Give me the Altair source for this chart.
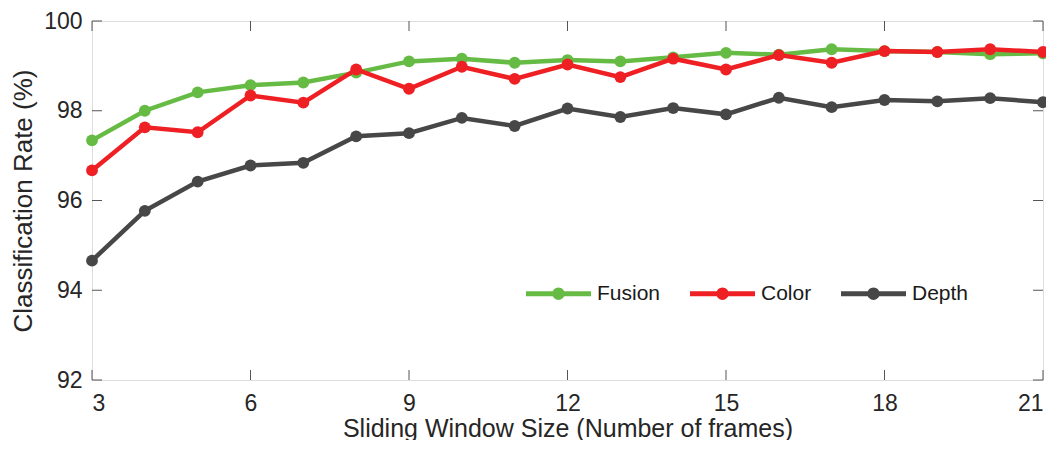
import altair as alt
import pandas as pd

# ---- data ----
window = [3, 4, 5, 6, 7, 8, 9, 10, 11, 12, 13, 14, 15, 16, 17, 18, 19, 20, 21]
fusion = [97.34, 98.00, 98.41, 98.57, 98.63, 98.85, 99.10, 99.16, 99.07, 99.13,
          99.10, 99.19, 99.29, 99.25, 99.37, 99.33, 99.31, 99.26, 99.28]
color = [96.67, 97.63, 97.52, 98.34, 98.18, 98.92, 98.49, 98.98, 98.71, 99.03,
         98.75, 99.16, 98.92, 99.24, 99.07, 99.33, 99.31, 99.37, 99.31]
depth = [94.66, 95.77, 96.42, 96.78, 96.84, 97.43, 97.50, 97.84, 97.66, 98.05,
         97.86, 98.06, 97.92, 98.29, 98.08, 98.24, 98.21, 98.28, 98.19]

series_names = ["Fusion", "Color", "Depth"]
series_colors = ["#66bb44", "#ee2024", "#474747"]
x_ticks = [3, 6, 9, 12, 15, 18, 21]
y_ticks = [92, 94, 96, 98, 100]

rows = []
for name, vals in zip(series_names, [fusion, color, depth]):
    for w, v in zip(window, vals):
        rows.append({"window": w, "rate": v, "series": name})
df = pd.DataFrame(rows)
xt = pd.DataFrame({"t": x_ticks})
yt = pd.DataFrame({"t": y_ticks})

W, H = 951, 359
FONT = "Liberation Sans"

xscale = alt.Scale(domain=[3, 21], nice=False, zero=False)
yscale = alt.Scale(domain=[92, 100], nice=False, zero=False)
cscale = alt.Scale(domain=series_names, range=series_colors)

legend_path = ("M-1,-0.075L1,-0.075L1,0.075L-1,0.075Z "
               "M0.19,0A0.19,0.19 0 1,1 -0.19,0A0.19,0.19 0 1,1 0.19,0Z")
legend = alt.Legend(
    title=None, orient="none", direction="horizontal",
    legendX=434, legendY=240, symbolType=legend_path, symbolSize=4225,
    symbolStrokeWidth=0, labelFont=FONT, labelFontSize=21, labelColor="#1a1a1a",
    labelOffset=6, columnPadding=29, padding=0, offset=0,
)

x_enc = alt.X("window:Q", scale=xscale,
              axis=alt.Axis(values=x_ticks, title="Sliding Window Size (Number of frames)",
                            grid=False, domain=False, ticks=False, labelPadding=12,
                            labelFontSize=23, titleFontSize=25, titlePadding=1,
                            labelFont=FONT, titleFont=FONT, labelColor="#262626",
                            titleColor="#262626", titleFontWeight="normal"))
y_enc = alt.Y("rate:Q", scale=yscale,
              axis=alt.Axis(values=y_ticks, title="Classification Rate (%)",
                            grid=False, domain=False, ticks=False, labelPadding=10,
                            labelFontSize=23, titleFontSize=26, titlePadding=7,
                            labelFont=FONT, titleFont=FONT, labelColor="#262626",
                            titleColor="#262626", titleFontWeight="normal"))

layers = []
for name in series_names:
    base = alt.Chart(df).transform_filter(alt.datum.series == name)
    line = base.mark_line(strokeWidth=4.5).encode(
        x=x_enc, y=y_enc,
        color=alt.Color("series:N", scale=cscale, legend=legend),
    )
    pts = base.mark_circle(size=140, opacity=1).encode(
        x=x_enc, y=y_enc,
        color=alt.Color("series:N", scale=cscale, legend=legend),
    )
    layers += [line, pts]

tick_color = "#555555"
bottom_ticks = alt.Chart(xt).mark_rule(color=tick_color, strokeWidth=1).encode(
    x=alt.X("t:Q", scale=xscale), y=alt.value(H), y2=alt.value(H - 10))
top_ticks = alt.Chart(xt).mark_rule(color=tick_color, strokeWidth=1).encode(
    x=alt.X("t:Q", scale=xscale), y=alt.value(0), y2=alt.value(10))
left_ticks = alt.Chart(yt).mark_rule(color=tick_color, strokeWidth=1).encode(
    y=alt.Y("t:Q", scale=yscale), x=alt.value(0), x2=alt.value(10))
right_ticks = alt.Chart(yt).mark_rule(color=tick_color, strokeWidth=1).encode(
    y=alt.Y("t:Q", scale=yscale), x=alt.value(W), x2=alt.value(W - 10))

chart = alt.layer(bottom_ticks, top_ticks, left_ticks, right_ticks, *layers).properties(
    width=W, height=H,
    autosize=alt.AutoSizeParams(type="none"),
    padding={"left": 84, "top": 13, "right": 3, "bottom": 60},
).configure_view(stroke="#555555", strokeWidth=1.2).configure(background="white")

chart.save("out.html", embed_options={"renderer": "svg", "actions": False})
